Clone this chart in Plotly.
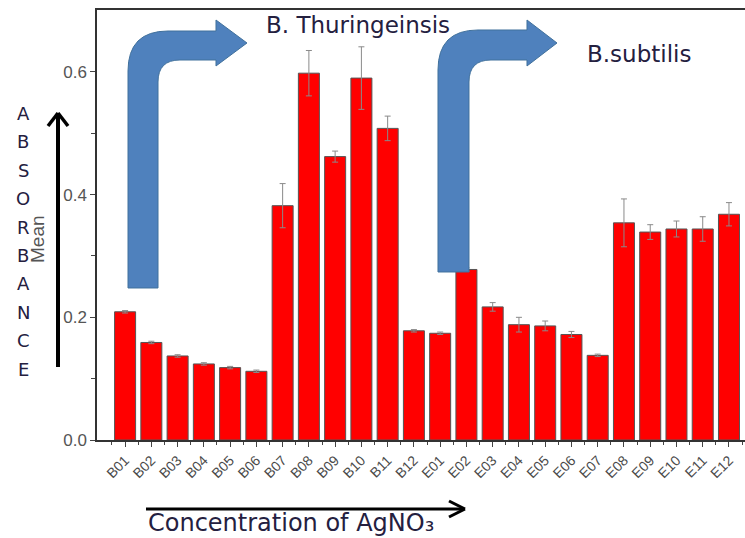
import plotly.graph_objects as go

# Sample labels and mean absorbance with standard error
samples = ["B01", "B02", "B03", "B04", "B05", "B06", "B07", "B08", "B09", "B10", "B11", "B12",
           "E01", "E02", "E03", "E04", "E05", "E06", "E07", "E08", "E09", "E10", "E11", "E12"]
mean_abs = [0.209, 0.159, 0.137, 0.124, 0.118, 0.112, 0.382, 0.598, 0.462, 0.590, 0.508, 0.178,
            0.174, 0.278, 0.217, 0.188, 0.186, 0.172, 0.138, 0.354, 0.339, 0.344, 0.344, 0.368]
std_err = [0.002, 0.002, 0.002, 0.002, 0.002, 0.002, 0.036, 0.037, 0.009, 0.051, 0.020, 0.002,
           0.002, 0.003, 0.007, 0.012, 0.008, 0.005, 0.002, 0.039, 0.012, 0.013, 0.020, 0.019]
y_ticks = [0.0, 0.2, 0.4, 0.6]

W, H = 745, 538
L, R, T, B = 97, 0, 10, 98
PW, PH = W - L - R, H - T - B

def px(x, y):
    """Convert pixel position (from top-left) to paper coordinates."""
    return (x - L) / PW, (H - B - y) / PH

def path_from(points):
    parts = []
    for cmd, *pts in points:
        coords = []
        for (x, y) in pts:
            a, b = px(x, y)
            coords.append(f"{a:.5f},{b:.5f}")
        parts.append(cmd + " ".join(coords))
    return " ".join(parts) + " Z"

def bent_arrow(x0, x1, ybot, ytop, yin, head_base, head_top, head_bot, tip_x):
    tip_y = (head_top + head_bot) / 2
    r_out = 40
    r_in = 22
    return path_from([
        ("M", (x0, ybot)),
        ("L", (x0, ytop + r_out)),
        ("Q", (x0, ytop), (x0 + r_out, ytop)),
        ("L", (head_base, ytop)),
        ("L", (head_base, head_top)),
        ("L", (tip_x, tip_y)),
        ("L", (head_base, head_bot)),
        ("L", (head_base, yin)),
        ("L", (x1 + r_in, yin)),
        ("Q", (x1, yin), (x1, yin + r_in)),
        ("L", (x1, ybot)),
    ])

positions = list(range(len(samples)))

fig = go.Figure()
fig.add_trace(go.Bar(
    x=positions, y=mean_abs, width=0.8,
    marker=dict(color="#FF0000", line=dict(color="#555555", width=1)),
    error_y=dict(type="data", array=std_err, color="#8a8a8a", thickness=1, width=3),
    showlegend=False,
))

blue = "#4F81BD"
shapes = [
    dict(type="path", xref="paper", yref="paper",
         path=bent_arrow(128, 158, 288, 31, 60, 216, 20, 66, 247),
         fillcolor=blue, line=dict(color="#41719C", width=1), layer="above"),
    dict(type="path", xref="paper", yref="paper",
         path=bent_arrow(438, 469, 272, 30, 60, 527, 20, 66, 557),
         fillcolor=blue, line=dict(color="#41719C", width=1), layer="above"),
]

# black axis arrows drawn beside the axes
def seg(x0, y0, x1, y1, w):
    a0, b0 = px(x0, y0)
    a1, b1 = px(x1, y1)
    return dict(type="line", xref="paper", yref="paper", x0=a0, y0=b0, x1=a1, y1=b1,
                line=dict(color="black", width=w))

shapes += [
    seg(58, 367, 58, 113, 4),
    seg(48, 126, 58, 113, 3.5), seg(68, 126, 58, 113, 3.5),
    seg(146, 509, 464, 509, 3),
    seg(449, 501, 465, 509, 3), seg(449, 517, 465, 509, 3),
]

annotations = []
text_col = "#24203f"
for i, ch in enumerate("ABSORBANCE"):
    ax, ay = px(23, 113.5 + i * 28.4)
    annotations.append(dict(xref="paper", yref="paper", x=ax, y=ay, text=ch, showarrow=False,
                            font=dict(family="DejaVu Sans", size=18, color=text_col),
                            xanchor="center", yanchor="middle"))

mx, my = px(37, 239)
annotations.append(dict(xref="paper", yref="paper", x=mx, y=my, text="Mean", textangle=-90,
                        showarrow=False, font=dict(family="Liberation Sans", size=19, color="#555555"),
                        xanchor="center", yanchor="middle"))

tx, ty = px(264, 25)
annotations.append(dict(xref="paper", yref="paper", x=tx, y=ty, text="B. Thuringeinsis",
                        showarrow=False, font=dict(family="DejaVu Sans", size=23, color=text_col),
                        xanchor="left", yanchor="middle"))
sx, sy = px(585, 54)
annotations.append(dict(xref="paper", yref="paper", x=sx, y=sy, text="B.subtilis",
                        showarrow=False, font=dict(family="DejaVu Sans", size=23, color=text_col),
                        xanchor="left", yanchor="middle"))
cx, cy = px(146, 523)
annotations.append(dict(xref="paper", yref="paper", x=cx, y=cy, text="Concentration of AgNO\u2083",
                        showarrow=False, font=dict(family="DejaVu Sans", size=24, color=text_col),
                        xanchor="left", yanchor="middle"))

fig.update_layout(
    width=W, height=H,
    margin=dict(l=L, r=R, t=T, b=B),
    paper_bgcolor="white", plot_bgcolor="white",
    bargap=0.2,
    shapes=shapes,
    annotations=annotations,
    xaxis=dict(
        range=[-1.07, 23.61],
        tickmode="array", tickvals=positions, ticktext=samples,
        tickangle=-45, ticks="outside", ticklen=5, tickcolor="#444444",
        tickfont=dict(family="Liberation Sans", size=14, color="#4a4a4a"),
        showline=True, linecolor="#333333", linewidth=1.5, mirror=True,
        showgrid=False, zeroline=False,
        minor=dict(tickmode="array", tickvals=[p + 0.5 for p in range(-1, 24)],
                   ticks="outside", ticklen=3, tickcolor="#444444"),
    ),
    yaxis=dict(
        range=[0, 0.701],
        tickmode="array", tickvals=y_ticks, ticktext=[f"{v:.1f}" for v in y_ticks],
        ticks="outside", ticklen=5, tickcolor="#444444",
        tickfont=dict(family="Liberation Sans", size=17, color="#555555"),
        showline=True, linecolor="#333333", linewidth=1.5,
        showgrid=False, zeroline=False,
        minor=dict(tickmode="array", tickvals=[0.1, 0.3, 0.5], ticks="outside", ticklen=4,
                   tickcolor="#444444"),
    ),
)

fig.write_html("out.html")
